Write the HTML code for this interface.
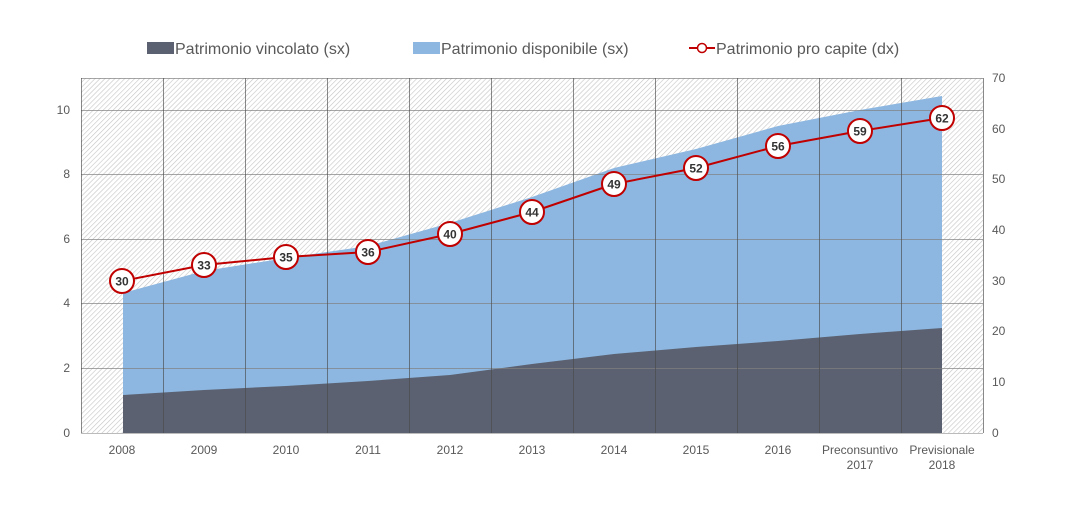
<!DOCTYPE html><html><head><style>body{margin:0;background:#fff}svg{font-family:"Liberation Sans",sans-serif}</style></head><body>
<svg width="1087" height="503" viewBox="0 0 1087 503">
<defs><pattern id="h" width="3.5" height="3.5" patternUnits="userSpaceOnUse" patternTransform="rotate(45)"><rect width="4" height="4" fill="#fff"/><line x1="0" y1="0" x2="0" y2="4" stroke="#c4c4c4" stroke-width="1.2"/></pattern></defs>
<rect x="81" y="78" width="902" height="355" fill="url(#h)"/>
<polygon fill="#8db7e0" points="123,293 204,271 286,258 368,246 450,223 532,197 614,168 696,149 778,126 860,110 942,96 942,433 123,433"/>
<polygon fill="#5b6170" points="123,395 204,390 286,386 368,381 450,375 532,364 614,354 696,347 778,341 860,334 942,328 942,433 123,433"/>
<g stroke="#808080" stroke-width="1" stroke-opacity="0.7">
<line x1="81" x2="983" y1="78.5" y2="78.5"/><line x1="81" x2="983" y1="110.5" y2="110.5"/><line x1="81" x2="983" y1="174.5" y2="174.5"/><line x1="81" x2="983" y1="239.5" y2="239.5"/><line x1="81" x2="983" y1="303.5" y2="303.5"/><line x1="81" x2="983" y1="368.5" y2="368.5"/>
</g>
<g stroke="#4a4a4a" stroke-width="1" stroke-opacity="0.65">
<line x1="81.5" x2="81.5" y1="78" y2="433"/><line x1="163.5" x2="163.5" y1="78" y2="433"/><line x1="245.5" x2="245.5" y1="78" y2="433"/><line x1="327.5" x2="327.5" y1="78" y2="433"/><line x1="409.5" x2="409.5" y1="78" y2="433"/><line x1="491.5" x2="491.5" y1="78" y2="433"/><line x1="573.5" x2="573.5" y1="78" y2="433"/><line x1="655.5" x2="655.5" y1="78" y2="433"/><line x1="737.5" x2="737.5" y1="78" y2="433"/><line x1="819.5" x2="819.5" y1="78" y2="433"/><line x1="901.5" x2="901.5" y1="78" y2="433"/><line x1="983.5" x2="983.5" y1="78" y2="433"/>
</g>
<line x1="81" x2="983" y1="433.5" y2="433.5" stroke="#bbb"/>
<polyline fill="none" stroke="#c00000" stroke-width="2" points="122,281 204,265 286,257 368,252 450,234 532,212 614,184 696,168 778,146 860,131 942,118"/>
<g fill="#fff" stroke="#c00000" stroke-width="2">
<circle cx="122" cy="281" r="12"/><circle cx="204" cy="265" r="12"/><circle cx="286" cy="257" r="12"/><circle cx="368" cy="252" r="12"/><circle cx="450" cy="234" r="12"/><circle cx="532" cy="212" r="12"/><circle cx="614" cy="184" r="12"/><circle cx="696" cy="168" r="12"/><circle cx="778" cy="146" r="12"/><circle cx="860" cy="131" r="12"/><circle cx="942" cy="118" r="12"/>
</g>
<g font-size="12" font-weight="bold" fill="#333" text-anchor="middle">
<text x="122" y="285.5">30</text><text x="204" y="269.5">33</text><text x="286" y="261.5">35</text><text x="368" y="256.5">36</text><text x="450" y="238.5">40</text><text x="532" y="216.5">44</text><text x="614" y="188.5">49</text><text x="696" y="172.5">52</text><text x="778" y="150.5">56</text><text x="860" y="135.5">59</text><text x="942" y="122.5">62</text>
</g>
<g font-size="12" fill="#595959" text-anchor="end">
<text x="70" y="437">0</text><text x="70" y="372">2</text><text x="70" y="307">4</text><text x="70" y="243">6</text><text x="70" y="178">8</text><text x="70" y="114">10</text>
</g>
<g font-size="12" fill="#595959">
<text x="992" y="437">0</text><text x="992" y="386">10</text><text x="992" y="335">20</text><text x="992" y="285">30</text><text x="992" y="234">40</text><text x="992" y="183">50</text><text x="992" y="133">60</text><text x="992" y="82">70</text>
</g>
<g font-size="12" fill="#595959" text-anchor="middle">
<text x="122" y="454">2008</text><text x="204" y="454">2009</text><text x="286" y="454">2010</text><text x="368" y="454">2011</text><text x="450" y="454">2012</text><text x="532" y="454">2013</text><text x="614" y="454">2014</text><text x="696" y="454">2015</text><text x="778" y="454">2016</text><text x="860" y="454">Preconsuntivo</text><text x="860" y="469">2017</text><text x="942" y="454">Previsionale</text><text x="942" y="469">2018</text>
</g>
<g font-size="16" fill="#595959">
<rect x="147" y="42" width="27" height="12" fill="#5b6170"/><text x="175" y="54">Patrimonio vincolato (sx)</text>
<rect x="413" y="42" width="27" height="12" fill="#8db7e0"/><text x="441" y="54">Patrimonio disponibile (sx)</text>
<line x1="689" x2="715" y1="48" y2="48" stroke="#c00000" stroke-width="2"/><circle cx="702" cy="48" r="4.5" fill="#fff" stroke="#c00000" stroke-width="1.5"/><text x="716" y="54">Patrimonio pro capite (dx)</text>
</g>
</svg></body></html>
